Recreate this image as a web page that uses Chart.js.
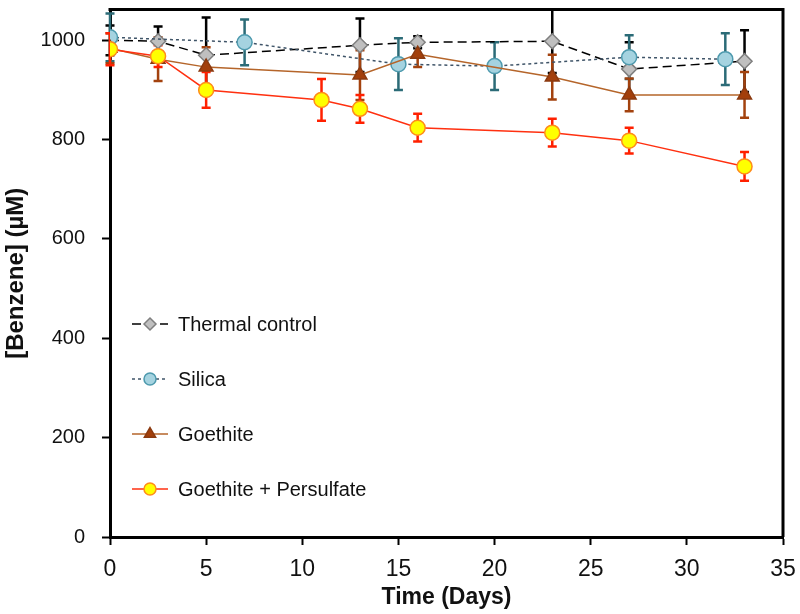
<!DOCTYPE html>
<html>
<head>
<meta charset="utf-8">
<script src="https://cdn.jsdelivr.net/npm/chart.js@4/dist/chart.umd.min.js"></script>
<style>
  html, body { margin: 0; padding: 0; background: #fff; }
  #wrap { width: 800px; height: 614px; }
</style>
</head>
<body>
<div id="wrap"><canvas id="c" width="800" height="614"></canvas></div>
<script>
// ---- data ----
const seriesNames = ["Thermal control", "Silica", "Goethite", "Goethite + Persulfate"];

const thermalDays = [0, 2.5, 5, 13, 16, 23, 27, 33];
const thermalVals = [1000, 998, 970, 990, 996, 998, 942, 958];
const thermalErr  = [30, 30, 76, 54, 12, 64, 54, 62];

const silicaDays = [0, 7, 15, 20, 27, 32];
const silicaVals = [1006, 996, 952, 948, 966, 962];
const silicaErr  = [48, 46, 52, 48, 44, 52];

const goethiteDays = [0, 2.5, 5, 13, 16, 23, 27, 33];
const goethiteVals = [984, 962, 946, 930, 972, 926, 890, 890];
const goethiteErr  = [30, 44, 40, 50, 26, 45, 33, 46];

const persDays = [0, 2.5, 5, 11, 13, 16, 23, 27, 33];
const persVals = [982, 968, 900, 880, 862, 824, 814, 798, 746];
const persErr  = [32, 22, 36, 42, 28, 28, 28, 26, 29];

const xTicks = [0, 5, 10, 15, 20, 25, 30, 35];
const yTicks = [0, 200, 400, 600, 800, 1000];

const toPts = (xs, ys) => xs.map((x, i) => ({ x: x, y: ys[i] }));

const styles = [
  { line: "#000000", dash: [9, 5], style: "rectRot", r: 7.5, fill: "#BFBFBF", border: "#7F7F7F", err: "#000000" },
  { line: "#3F5468", dash: [3, 3], style: "circle", r: 7.5, fill: "#A5D3E0", border: "#4E9AAE", err: "#2B6B77" },
  { line: "#B5652A", dash: [], style: "triangle", r: 8, fill: "#A33F0B", border: "#8B3A10", err: "#A3420E" },
  { line: "#FF3010", dash: [], style: "circle", r: 7.5, fill: "#FFFF00", border: "#FF8C1A", err: "#FF2000" }
];

const dataPts = [
  toPts(thermalDays, thermalVals),
  toPts(silicaDays, silicaVals),
  toPts(goethiteDays, goethiteVals),
  toPts(persDays, persVals)
];
const errs = [thermalErr, silicaErr, goethiteErr, persErr];
const orders = [3, 2, 1, 0];

const datasets = dataPts.map((pts, i) => ({
  label: seriesNames[i],
  data: pts,
  errors: errs[i],
  order: orders[i],
  borderColor: styles[i].line,
  borderDash: styles[i].dash,
  borderWidth: 1.5,
  pointStyle: styles[i].style,
  pointRadius: styles[i].r,
  pointBackgroundColor: styles[i].fill,
  pointBorderColor: styles[i].border,
  pointBorderWidth: 1.5,
  tension: 0,
  fill: false
}));

const errorBars = {
  id: "errorBars",
  beforeDatasetsDraw(chart) {
    const ctx = chart.ctx, xs = chart.scales.x, ys = chart.scales.y;
    ctx.save();
    ctx.strokeStyle = "#000"; ctx.lineWidth = 3;
    const a = chart.chartArea;
    ctx.beginPath();
    ctx.moveTo(a.left - 1.5, a.top); ctx.lineTo(a.right, a.top); ctx.lineTo(a.right, a.bottom);
    ctx.stroke();
    chart.data.datasets.forEach((ds, i) => {
      ctx.strokeStyle = styles[i].err;
      ctx.lineWidth = 2.5;
      ds.data.forEach((p, j) => {
        const e = ds.errors[j];
        const px = xs.getPixelForValue(p.x);
        const yt = Math.max(ys.getPixelForValue(p.y + e), a.top);
        const yb = ys.getPixelForValue(p.y - e);
        ctx.beginPath();
        ctx.moveTo(px, yt); ctx.lineTo(px, yb);
        ctx.moveTo(px - 4.5, yt); ctx.lineTo(px + 4.5, yt);
        ctx.moveTo(px - 4.5, yb); ctx.lineTo(px + 4.5, yb);
        ctx.stroke();
      });
    });
    ctx.restore();
  }
};

const customLegend = {
  id: "customLegend",
  afterDraw(chart) {
    const ctx = chart.ctx;
    const rowsY = [324, 379, 434, 489];
    ctx.save();
    seriesNames.forEach((name, i) => {
      const y = rowsY[i];
      const s = styles[i];
      ctx.strokeStyle = s.line;
      ctx.lineWidth = 1.5;
      ctx.setLineDash(s.dash);
      ctx.beginPath(); ctx.moveTo(132, y); ctx.lineTo(168, y); ctx.stroke();
      ctx.setLineDash([]);
      ctx.fillStyle = s.fill; ctx.strokeStyle = s.border; ctx.lineWidth = 1.5;
      Chart.helpers.drawPoint(ctx, { pointStyle: s.style, radius: s.r - 1.5, rotation: 0, borderWidth: 1.5 }, 150, y);
      ctx.fillStyle = "#111";
      ctx.font = "20px 'Liberation Sans', Arial, sans-serif";
      ctx.textAlign = "left"; ctx.textBaseline = "middle";
      ctx.fillText(name, 178, y + 1);
    });
    ctx.restore();
  }
};

new Chart(document.getElementById("c"), {
  type: "line",
  data: { datasets: datasets },
  plugins: [errorBars, customLegend],
  options: {
    responsive: false,
    animation: false,
    layout: { padding: { top: 4, right: 17, left: 0, bottom: 0 } },
    plugins: { legend: { display: false }, tooltip: { enabled: false } },
    scales: {
      x: {
        type: "linear", min: 0, max: 35,
        afterBuildTicks: (s) => { s.ticks = xTicks.map(v => ({ value: v })); },
        afterFit: (s) => { s.height = 77; s.paddingLeft = 0; s.paddingRight = 0; },
        ticks: { color: "#111", padding: 11, callback: (v) => String(v),
                 font: { family: "'Liberation Sans', Arial, sans-serif", size: 23 } },
        grid: { display: true, drawOnChartArea: false, tickLength: 8, tickColor: "#000", tickWidth: 2 },
        border: { display: true, color: "#000", width: 3 },
        title: { display: true, text: "Time (Days)", color: "#111", padding: { top: 0, bottom: 3 },
                 font: { family: "'Liberation Sans', Arial, sans-serif", size: 23, weight: "bold" } }
      },
      y: {
        type: "linear", min: 0, max: 1062,
        afterBuildTicks: (s) => { s.ticks = yTicks.map(v => ({ value: v })); },
        afterFit: (s) => { s.width = 110; s.paddingTop = 0; s.paddingBottom = 0; },
        ticks: { color: "#111", padding: 17, callback: (v) => String(v),
                 font: { family: "'Liberation Sans', Arial, sans-serif", size: 20 } },
        grid: { display: true, drawOnChartArea: false, tickLength: 8, tickColor: "#000", tickWidth: 2 },
        border: { display: true, color: "#000", width: 3 },
        title: { display: true, text: "[Benzene] (µM)", color: "#111", padding: { top: 2, bottom: 0 },
                 font: { family: "'Liberation Sans', Arial, sans-serif", size: 24, weight: "bold" } }
      }
    }
  }
});
</script>
</body>
</html>
